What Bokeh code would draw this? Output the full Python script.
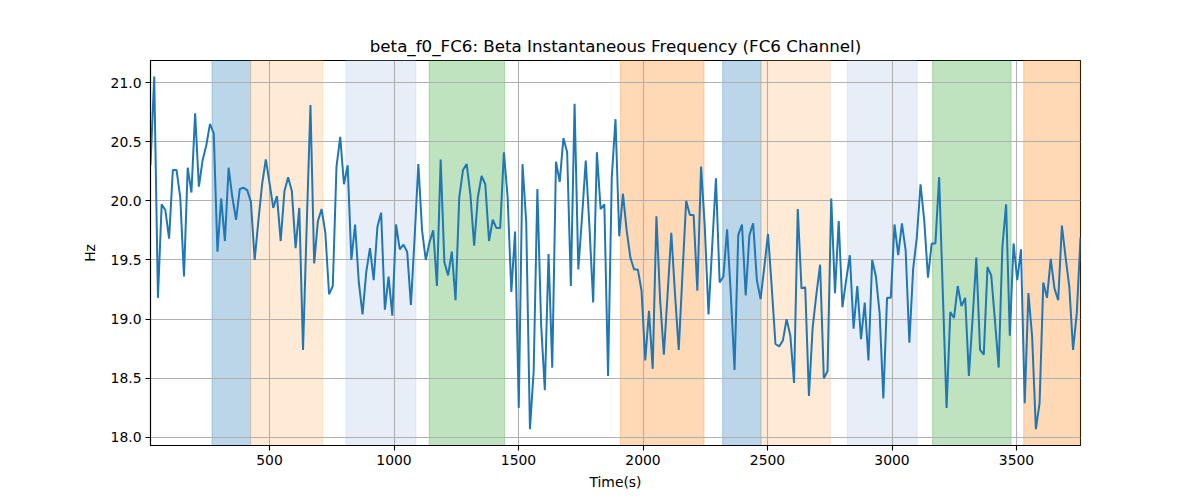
from bokeh.plotting import figure
from bokeh.models import Range1d, FixedTicker, NumeralTickFormatter, BoxAnnotation
from bokeh.embed import file_html
from bokeh.resources import INLINE

# ---- data ----
values = [
    20.30, 21.05, 19.18, 19.97, 19.92, 19.68, 20.26, 20.26, 20.03, 19.36, 20.28, 20.07, 20.74, 20.12, 20.34, 20.47,
    20.65, 20.57, 19.57, 20.02, 19.66, 20.28, 20.03, 19.84, 20.10, 20.11, 20.09, 19.99, 19.50, 19.83, 20.14, 20.35,
    20.15, 19.94, 20.04, 19.66, 20.08, 20.20, 20.08, 19.60, 19.94, 18.74, 19.80, 20.81, 19.47, 19.83, 19.93, 19.73,
    19.21, 19.28, 20.29, 20.54, 20.14, 20.30, 19.50, 19.80, 19.31, 19.04, 19.40, 19.60, 19.33, 19.78, 19.90, 19.08,
    19.36, 19.03, 19.80, 19.59, 19.63, 19.57, 19.12, 19.69, 20.31, 19.75, 19.50, 19.65, 19.75, 19.28, 20.35, 19.48,
    19.37, 19.57, 19.16, 20.03, 20.26, 20.31, 20.05, 19.62, 20.03, 20.21, 20.14, 19.66, 19.84, 19.77, 19.77,
    20.41, 20.03, 19.23, 19.74, 18.25, 20.31, 19.82, 18.07, 18.56, 20.10, 18.96, 18.40, 19.55, 18.59, 20.33, 20.16,
    20.53, 20.41, 19.28, 20.82, 19.42, 19.86, 20.34, 19.78, 19.14, 20.41, 19.93, 19.97, 18.52, 20.20, 20.69,
    19.70, 20.06, 19.75, 19.52, 19.42, 19.42, 19.24, 18.65, 19.07, 18.58, 19.87, 19.16, 18.70, 19.21, 19.73, 19.21,
    18.74, 19.38, 20.00, 19.88, 19.88, 19.24, 20.29, 19.78, 19.04, 19.62, 20.19, 19.31, 19.36, 19.76, 19.21,
    18.57, 19.71, 19.80, 19.20, 19.71, 19.81, 19.33, 19.17, 19.44, 19.72, 19.27, 18.79, 18.77, 18.82, 19.00, 18.86,
    18.46, 19.93, 19.26, 19.27, 18.35, 18.93, 19.21, 19.46, 18.50, 18.56, 20.02, 19.22, 19.83, 19.10, 19.33,
    19.54, 18.92, 19.28, 18.83, 19.14, 18.65, 19.50, 19.36, 19.05, 18.33, 19.18, 19.18, 19.80, 19.54, 19.81, 19.58,
    18.80, 19.42, 19.69, 20.14, 19.83, 19.35, 19.64, 19.64, 20.20, 19.21, 18.25, 19.06, 19.01, 19.28, 19.11,
    19.18, 18.52, 19.01, 19.52, 18.74, 18.70, 19.44, 19.37, 18.99, 18.59, 19.61, 19.97, 18.86, 19.64, 19.33, 19.59,
    18.29, 19.22, 18.85, 18.07, 18.29, 19.31, 19.18, 19.51, 19.26, 19.16, 19.79, 19.52, 19.27, 18.74, 19.05, 19.69,
]
t_start = 22.0
t_step = 14.94
times = [t_start + t_step * i for i in range(len(values))]

span_starts = [269, 424, 807, 1141, 1909, 2320, 2474, 2821, 3163, 3529]
span_ends = [424, 714, 1088, 1444, 2245, 2474, 2752, 3101, 3478, 3758]
span_colors = ["#1f77b4", "#ffbb78", "#aec7e8", "#2ca02c", "#ff7f0e",
               "#1f77b4", "#ffbb78", "#aec7e8", "#2ca02c", "#ff7f0e"]

x_ticks = [500, 1000, 1500, 2000, 2500, 3000, 3500]
y_ticks = [18.0, 18.5, 19.0, 19.5, 20.0, 20.5, 21.0]

FONT = "DejaVu Sans"

p = figure(width=1184, height=492, output_backend="svg", toolbar_location=None,
           x_range=Range1d(times[0], times[-1]), y_range=Range1d(17.932, 21.186),
           title="beta_f0_FC6: Beta Instantaneous Frequency (FC6 Channel)",
           min_border_left=150, min_border_right=104, min_border_top=60, min_border_bottom=47)

for s, e, c in zip(span_starts, span_ends, span_colors):
    p.add_layout(BoxAnnotation(left=s, right=e, fill_color=c, fill_alpha=0.3,
                               line_color=c, line_alpha=0.3, line_width=1, level="image"))

p.line(times, values, line_color="#1f77b4", line_width=2)

p.title.align = "center"
p.title.text_font = FONT
p.title.text_font_size = "16.7px"
p.title.text_font_style = "normal"
p.title.text_color = "black"

p.outline_line_color = "black"
p.outline_line_width = 1.1
p.outline_line_alpha = 1.0

for ax in (p.xaxis[0], p.yaxis[0]):
    ax.axis_line_color = "black"
    ax.axis_line_width = 1.1
    ax.major_tick_line_color = "black"
    ax.major_tick_line_width = 1.1
    ax.major_tick_out = 5
    ax.major_tick_in = 0
    ax.minor_tick_line_color = None
    ax.major_label_text_font = FONT
    ax.major_label_text_font_size = "13.9px"
    ax.major_label_text_color = "black"
    ax.axis_label_text_font = FONT
    ax.axis_label_text_font_size = "13.9px"
    ax.axis_label_text_font_style = "normal"
    ax.axis_label_text_color = "black"
    ax.major_label_standoff = 4

p.xaxis[0].ticker = FixedTicker(ticks=x_ticks)
p.yaxis[0].ticker = FixedTicker(ticks=y_ticks)
p.yaxis[0].formatter = NumeralTickFormatter(format="0.0")
p.xaxis[0].axis_label = "Time(s)"
p.yaxis[0].axis_label = "Hz"
p.xaxis[0].axis_label_standoff = 6
p.yaxis[0].axis_label_standoff = 10

p.xgrid.ticker = FixedTicker(ticks=x_ticks)
p.ygrid.ticker = FixedTicker(ticks=y_ticks)
for g in (p.xgrid[0], p.ygrid[0]):
    g.grid_line_color = "#b0b0b0"
    g.grid_line_width = 1.1

open("out.html", "w").write(file_html(p, INLINE))
